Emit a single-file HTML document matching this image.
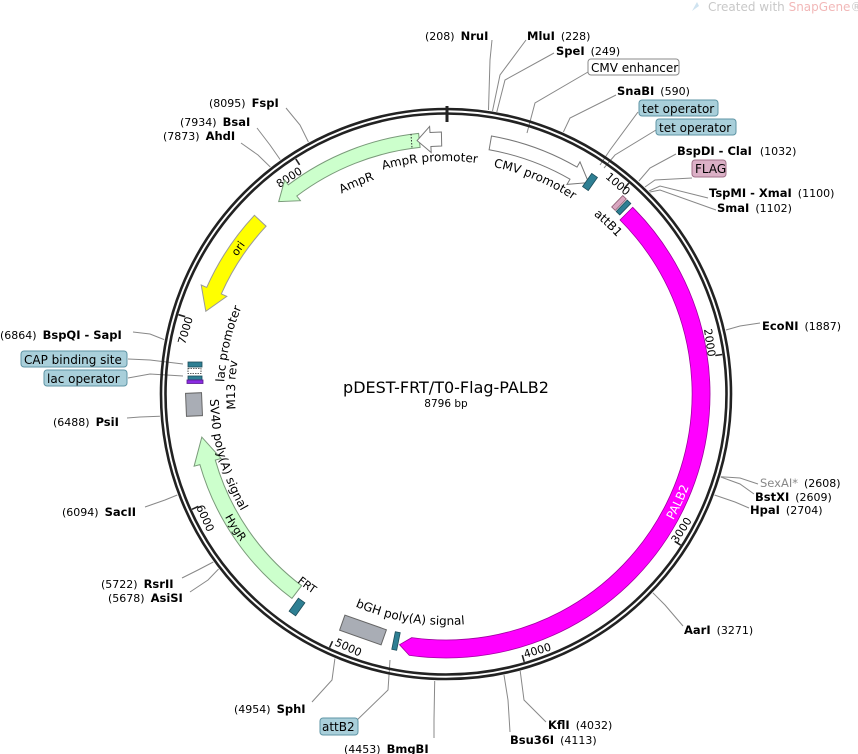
<!DOCTYPE html>
<html><head><meta charset="utf-8"><style>
html,body{margin:0;padding:0;background:#fff;}
svg{display:block;}
text{font-family:"DejaVu Sans","Liberation Sans",sans-serif;}
.e{font-size:11.5px;font-weight:bold;fill:#000;}
.n{font-size:11px;fill:#000;}
.f{font-size:12px;fill:#000;}
.t{font-size:11px;fill:#000;}
.ln{stroke:#888;stroke-width:1;fill:none;}
.bx{fill:#a9cfda;stroke:#5f95a5;stroke-width:1;}
</style></head><body>
<svg width="858" height="754" viewBox="0 0 858 754" xmlns="http://www.w3.org/2000/svg">
<defs>
<path id="cw233" d="M446,627 A233,233 0 1 1 446,161 A233,233 0 1 1 446,627"/>
<path id="cw232" d="M446,626 A232,232 0 1 1 446,162 A232,232 0 1 1 446,626"/>
<path id="cw226" d="M446,620 A226,226 0 1 1 446,168 A226,226 0 1 1 446,620"/>
<path id="cw250" d="M446,644 A250,250 0 1 1 446,144 A250,250 0 1 1 446,644"/>
<path id="cw222" d="M446,616 A222,222 0 1 1 446,172 A222,222 0 1 1 446,616"/>
<path id="cw211" d="M446,605 A211,211 0 1 1 446,183 A211,211 0 1 1 446,605"/>
<path id="ccw253" d="M446,141 A253,253 0 1 0 446,647 A253,253 0 1 0 446,141"/>
<path id="ccw236" d="M446,158 A236,236 0 1 0 446,630 A236,236 0 1 0 446,158"/>
<path id="ccw240" d="M446,154 A240,240 0 1 0 446,634 A240,240 0 1 0 446,154"/>
<path id="ccw231" d="M446,163 A231,231 0 1 0 446,625 A231,231 0 1 0 446,163"/>
<path id="ccw260" d="M446,134 A260,260 0 1 0 446,654 A260,260 0 1 0 446,134"/>
</defs>

<!-- watermark -->
<text x="708" y="11" style="font-size:12px;fill:#c8c8c8">Created with <tspan fill="#f2b8b8">SnapGene</tspan>®</text>
<path d="M692,11 L697,2 L699,6 Z" fill="#cfe3f0"/>

<!-- restriction lines -->
<g class="ln">
<polyline points="488.5,110 490,60 492,40"/>
<polyline points="492.5,111 500,75 526,40"/>
<polyline points="496.8,112 505,80 554,53"/>
<polyline points="527,133 535,103 588,72"/>
<polyline points="563.4,132 570,118 616,95"/>
<polyline points="600,165 610,150 638,112"/>
<polyline points="604,168 615,155 656,130"/>
<polyline points="638.9,181 650,168 676,154"/>
<polyline points="645,187 655,180 692,178"/>
<polyline points="649,191 660,186 708,198"/>
<polyline points="650,192 660,190 716,210"/>
<polyline points="725.9,330 740,326 760,323"/>
<polyline points="720.8,476.7 740,478 758,484"/>
<polyline points="720.8,477 740,484 754,494"/>
<polyline points="714.5,495 735,502 749,508"/>
<polyline points="652.9,592.8 665,605 683,626"/>
<polyline points="520.2,671 524,700 546,722"/>
<polyline points="504,675 508,700 510,732"/>
<polyline points="434.7,681 434,720 434,738"/>
<polyline points="390,660 388,690 355,722"/>
<polyline points="334.9,658.6 332,680 312,702"/>
<polyline points="218.6,569 208,580 190,592"/>
<polyline points="213.3,562 198,570 182,578"/>
<polyline points="177.3,495 165,500 145,507"/>
<polyline points="159.9,416.3 140,417 127,418"/>
<polyline points="164.2,339.6 150,334 133,332"/>
<polyline points="183,364 150,360 128,359"/>
<polyline points="183,376 150,374 128,378"/>
<polyline points="270.3,167 258,155 241,143"/>
<polyline points="280.2,159.6 270,145 257,128"/>
<polyline points="308.4,142 300,125 286,108"/>
</g>

<!-- ring -->
<circle cx="446" cy="394" r="285" fill="none" stroke="#222" stroke-width="2.6"/>
<circle cx="446" cy="394" r="280.5" fill="none" stroke="#222" stroke-width="2.6"/>
<line x1="447" y1="106" x2="447" y2="122" stroke="#222" stroke-width="3"/>

<!-- ticks -->
<g stroke="#222" stroke-width="1.6">
<line x1="628.8" y1="183.1" x2="624.2" y2="188.4"/>
<line x1="722.2" y1="354.5" x2="715.3" y2="355.5"/>
<line x1="680.6" y1="545.1" x2="674.7" y2="541.3"/>
<line x1="524.2" y1="661.8" x2="522.3" y2="655.1"/>
<line x1="329.6" y1="647.6" x2="332.5" y2="641.2"/>
<line x1="192.0" y1="509.3" x2="198.4" y2="506.4"/>
<line x1="178.5" y1="314.7" x2="185.2" y2="316.7"/>
<line x1="295.8" y1="158.9" x2="299.6" y2="164.8"/>
</g>
<g class="t">
<text transform="translate(626,196) rotate(40.9)" text-anchor="end">1000</text>
<text transform="translate(708,357) rotate(81.9)" text-anchor="end">2000</text>
<text transform="translate(677,544) rotate(-57.2)">3000</text>
<text transform="translate(525,658) rotate(-16.3)">4000</text>
<text transform="translate(334,645) rotate(24.65)">5000</text>
<text transform="translate(196,507) rotate(65.6)">6000</text>
<text transform="translate(193,318) rotate(-73.5)" text-anchor="end">7000</text>
<text transform="translate(303,173) rotate(-32.6)" text-anchor="end">8000</text>
</g>

<!-- features -->
<path d="M632.7,207.3 A264,264 0 0 1 409.3,655.4 L399.5,644.7 L411.8,637.6 A246,246 0 0 0 620,220 Z" fill="#ff00ff" stroke="#a000a0" stroke-width="0.8"/>
<path d="M491.5,136 A262,262 0 0 1 577,167.1 L580,161.9 L588.6,182.6 L567,184.4 L570,179.2 A248,248 0 0 0 489.1,149.8 Z" fill="#fff" stroke="#777" stroke-width="1"/>
<path d="M418.6,133.4 A262,262 0 0 0 288.3,184.8 L284.7,180 L278.7,201.6 L300.4,200.7 L296.8,196 A248,248 0 0 1 420.1,147.4 Z" fill="#ccffcc" stroke="#7a9a7a" stroke-width="1"/>
<line x1="411" y1="134" x2="412" y2="148" stroke="#333" stroke-dasharray="1.5,1.5"/>
<path d="M441.4,132 A262,262 0 0 0 430,132.5 L429.6,126.5 L417.1,140.6 L431.2,152.5 L430.9,146.5 A248,248 0 0 1 441.7,146 Z" fill="#fff" stroke="#777" stroke-width="1"/>
<path d="M254.4,215.3 A262,262 0 0 0 206.7,287.4 L201.2,285 L205.8,311.3 L226.8,296.4 L221.3,293.9 A246,246 0 0 1 266.1,226.2 Z" fill="#ffff00" stroke="#999" stroke-width="1"/>
<path d="M291.9,598.4 A256,256 0 0 1 199.9,464.6 L194.1,466.2 L201.8,437.1 L221.1,458.5 L215.3,460.1 A240,240 0 0 0 301.6,585.7 Z" fill="#ccffcc" stroke="#7a9a7a" stroke-width="1"/>

<!-- small boxes -->
<g stroke="#1c4d5a" stroke-width="0.8">
<rect transform="translate(590,182) rotate(35)" x="-3.5" y="-8" width="7" height="16" fill="#2e7f93"/>
<rect transform="translate(619,203) rotate(44)" x="-2.5" y="-8" width="5" height="16" fill="#d9a6c0" stroke="#8a5a70"/>
<rect transform="translate(623.5,207.5) rotate(44)" x="-2.5" y="-8" width="5" height="16" fill="#2e7f93"/>
<rect transform="translate(297,607) rotate(215.5)" x="-4" y="-8" width="8" height="16" fill="#2e7f93"/>
<rect transform="translate(396,641) rotate(191.4)" x="-2.5" y="-9" width="5" height="18" fill="#2e7f93"/>
<rect x="188" y="362" width="14" height="5" fill="#2e7f93"/>
<rect x="188" y="376" width="14" height="4" fill="#2e7f93"/>
<rect x="187" y="380" width="16" height="3.5" fill="#8a2be2" stroke="#5a1a90"/>
</g>
<rect x="188" y="368.5" width="13" height="5" fill="#fff" stroke="#333" stroke-width="0.8" stroke-dasharray="1.5,1"/>
<rect transform="translate(194,404.5) rotate(267.6)" x="-11.5" y="-8" width="23" height="16" fill="#a9adb5" stroke="#666"/>
<rect transform="translate(363,630) rotate(199.4)" x="-22" y="-8" width="44" height="16" fill="#a9adb5" stroke="#666"/>

<!-- feature labels -->
<g class="f">
<text><textPath href="#cw233" startOffset="48.89%" text-anchor="middle">AmpR promoter</textPath></text>
<text><textPath href="#cw232" startOffset="56.25%" text-anchor="middle">CMV promoter</textPath></text>
<text><textPath href="#cw226" startOffset="43.61%" text-anchor="middle">AmpR</textPath></text>
<text><textPath href="#cw232" startOffset="62.08%" text-anchor="middle">attB1</textPath></text>
<text style="font-size:11px"><textPath href="#cw250" startOffset="34.72%" text-anchor="middle">ori</textPath></text>
<text style="font-size:11px"><textPath href="#ccw253" startOffset="34%" text-anchor="middle">HygR</textPath></text>
<text><textPath href="#ccw236" startOffset="29.31%" text-anchor="middle">SV40 poly(A) signal</textPath></text>
<text><textPath href="#cw222" startOffset="28.61%" text-anchor="middle">lac promoter</textPath></text>
<text><textPath href="#cw211" startOffset="25.67%" text-anchor="middle">M13 rev</textPath></text>
<text style="font-size:11px"><textPath href="#ccw240" startOffset="40%" text-anchor="middle">FRT</textPath></text>
<text><textPath href="#ccw231" startOffset="47.44%" text-anchor="middle">bGH poly(A) signal</textPath></text>
<text style="fill:#fff"><textPath href="#ccw260" startOffset="68.06%" text-anchor="middle">PALB2</textPath></text>
</g>

<!-- boxed labels -->
<rect x="588" y="59" width="91" height="16" rx="3" fill="#fff" stroke="#888"/>
<text class="f" x="591" y="72">CMV enhancer</text>
<rect class="bx" x="639" y="100" width="79" height="16" rx="3"/>
<text class="f" x="642" y="113">tet operator</text>
<rect class="bx" x="656" y="119" width="80" height="16" rx="3"/>
<text class="f" x="659" y="132">tet operator</text>
<rect x="692" y="160" width="34" height="17" rx="3" fill="#dbb0c6" stroke="#a07088"/>
<text class="f" x="695" y="173">FLAG</text>
<rect class="bx" x="320" y="718" width="38" height="17" rx="3"/>
<text class="f" x="322" y="731">attB2</text>
<rect class="bx" x="21" y="351" width="106" height="16" rx="3"/>
<text class="f" x="24" y="364">CAP binding site</text>
<rect class="bx" x="44" y="370" width="83" height="16" rx="3"/>
<text class="f" x="47" y="383">lac operator</text>

<!-- enzyme labels -->
<text x="425" y="40"><tspan class="n">(208)</tspan><tspan class="e" dx="6">NruI</tspan></text>
<text x="527" y="40"><tspan class="e">MluI</tspan><tspan class="n" dx="6">(228)</tspan></text>
<text x="556" y="55"><tspan class="e">SpeI</tspan><tspan class="n" dx="6">(249)</tspan></text>
<text x="617" y="95"><tspan class="e">SnaBI</tspan><tspan class="n" dx="6">(590)</tspan></text>
<text x="677" y="155"><tspan class="e">BspDI - ClaI</tspan><tspan class="n" dx="8">(1032)</tspan></text>
<text x="709" y="197"><tspan class="e">TspMI - XmaI</tspan><tspan class="n" dx="6">(1100)</tspan></text>
<text x="717" y="212"><tspan class="e">SmaI</tspan><tspan class="n" dx="6">(1102)</tspan></text>
<text x="762" y="330"><tspan class="e">EcoNI</tspan><tspan class="n" dx="6">(1887)</tspan></text>
<text x="760" y="487"><tspan class="e" style="fill:#888;font-weight:normal">SexAI*</tspan><tspan class="n" dx="6">(2608)</tspan></text>
<text x="755" y="501"><tspan class="e">BstXI</tspan><tspan class="n" dx="6">(2609)</tspan></text>
<text x="750" y="514"><tspan class="e">HpaI</tspan><tspan class="n" dx="6">(2704)</tspan></text>
<text x="684" y="634"><tspan class="e">AarI</tspan><tspan class="n" dx="6">(3271)</tspan></text>
<text x="548" y="729"><tspan class="e">KflI</tspan><tspan class="n" dx="6">(4032)</tspan></text>
<text x="510" y="744"><tspan class="e">Bsu36I</tspan><tspan class="n" dx="6">(4113)</tspan></text>
<text x="344" y="753"><tspan class="n">(4453)</tspan><tspan class="e" dx="6">BmgBI</tspan></text>
<text x="234" y="713"><tspan class="n">(4954)</tspan><tspan class="e" dx="6">SphI</tspan></text>
<text x="101" y="588"><tspan class="n">(5722)</tspan><tspan class="e" dx="6">RsrII</tspan></text>
<text x="108" y="602"><tspan class="n">(5678)</tspan><tspan class="e" dx="6">AsiSI</tspan></text>
<text x="62" y="516"><tspan class="n">(6094)</tspan><tspan class="e" dx="6">SacII</tspan></text>
<text x="53" y="426"><tspan class="n">(6488)</tspan><tspan class="e" dx="6">PsiI</tspan></text>
<text x="0" y="339"><tspan class="n">(6864)</tspan><tspan class="e" dx="6">BspQI - SapI</tspan></text>
<text x="163" y="140"><tspan class="n">(7873)</tspan><tspan class="e" dx="6">AhdI</tspan></text>
<text x="180" y="126"><tspan class="n">(7934)</tspan><tspan class="e" dx="6">BsaI</tspan></text>
<text x="209" y="107"><tspan class="n">(8095)</tspan><tspan class="e" dx="6">FspI</tspan></text>

<!-- title -->
<text x="446" y="393" text-anchor="middle" style="font-size:16px">pDEST-FRT/T0-Flag-PALB2</text>
<text x="446" y="407" text-anchor="middle" style="font-size:10.5px">8796 bp</text>
</svg>
</body></html>
